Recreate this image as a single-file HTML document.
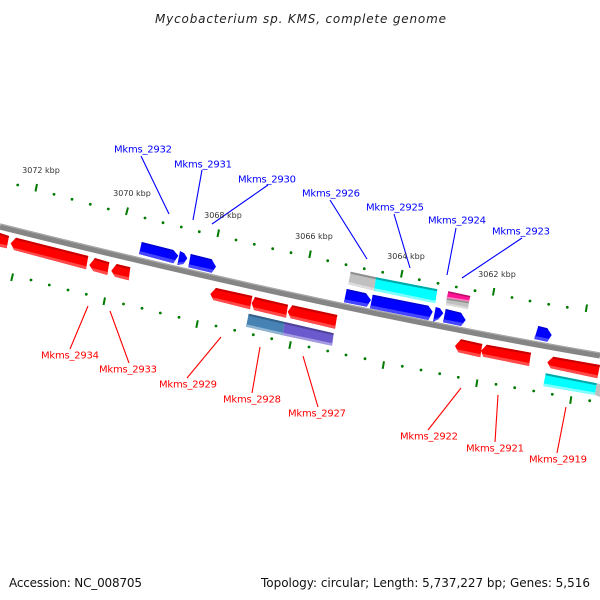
<!DOCTYPE html>
<html><head><meta charset="utf-8"><style>
html,body{margin:0;padding:0;background:#fff}
svg{display:block}
text{font-family:"DejaVu Sans",sans-serif}
.b{fill:#00f}.r{fill:#f00}
.bt{fill:#00c}.bu{fill:#4646ff}
.rt{fill:#c80000}.ru{fill:#ff4a4a}
.lb line{stroke:#00f;stroke-width:1.1}
.lr line{stroke:#f00;stroke-width:1.1}
.tb text{fill:#00f;font-size:10px}
.tr text{fill:#f00;font-size:10px}
.k text{fill:#333;font-size:8px;text-anchor:middle}
.mi circle{fill:#007a00}
.ma line{stroke:#007a00;stroke-width:2}
</style></head><body>
<svg width="600" height="600" viewBox="0 0 600 600" xmlns="http://www.w3.org/2000/svg">
<rect width="600" height="600" fill="#fff"/>
<text x="155" y="23" font-size="12" font-style="italic" fill="#222" textLength="291" lengthAdjust="spacing">Mycobacterium sp. KMS, complete genome</text>

<g fill="none">
<path d="M0,226.5 Q337,310.8 600,355.5" stroke="#858585" stroke-width="6.2"/>
<path d="M0,224 Q337,308.3 600,353" stroke="#a8a8a8" stroke-width="1.2"/>
</g>

<g class="mi">
<circle cx="17.7" cy="185" r="1.4"/><circle cx="54" cy="194.3" r="1.4"/><circle cx="72" cy="199.3" r="1.4"/><circle cx="90.3" cy="204.3" r="1.4"/><circle cx="108.3" cy="209" r="1.4"/><circle cx="145" cy="218" r="1.4"/><circle cx="163" cy="222.7" r="1.4"/><circle cx="181.3" cy="227" r="1.4"/><circle cx="199.3" cy="231.7" r="1.4"/><circle cx="236" cy="240" r="1.4"/><circle cx="254.3" cy="244.3" r="1.4"/><circle cx="272.7" cy="248.7" r="1.4"/><circle cx="291" cy="252.7" r="1.4"/><circle cx="327.7" cy="260.7" r="1.4"/><circle cx="346" cy="264.7" r="1.4"/><circle cx="364.3" cy="268.7" r="1.4"/><circle cx="382.7" cy="272.3" r="1.4"/><circle cx="419.3" cy="279.7" r="1.4"/><circle cx="438" cy="283.3" r="1.4"/><circle cx="456.3" cy="287" r="1.4"/><circle cx="475" cy="290.7" r="1.4"/><circle cx="512" cy="297.5" r="1.4"/><circle cx="530" cy="301" r="1.4"/><circle cx="548.7" cy="304.3" r="1.4"/><circle cx="567.3" cy="307.3" r="1.4"/>
<circle cx="31" cy="280" r="1.4"/><circle cx="49.3" cy="285" r="1.4"/><circle cx="68" cy="290" r="1.4"/><circle cx="86.3" cy="294.3" r="1.4"/><circle cx="123.5" cy="304" r="1.4"/><circle cx="142" cy="308.3" r="1.4"/><circle cx="160.3" cy="313" r="1.4"/><circle cx="179" cy="317.3" r="1.4"/><circle cx="216" cy="326" r="1.4"/><circle cx="234.7" cy="330.3" r="1.4"/><circle cx="253.3" cy="334.7" r="1.4"/><circle cx="271.7" cy="338.7" r="1.4"/><circle cx="309" cy="347" r="1.4"/><circle cx="327.7" cy="351" r="1.4"/><circle cx="346" cy="355" r="1.4"/><circle cx="365" cy="358.7" r="1.4"/><circle cx="402.3" cy="366.3" r="1.4"/><circle cx="421" cy="370" r="1.4"/><circle cx="439.7" cy="373.7" r="1.4"/><circle cx="458.3" cy="377.3" r="1.4"/><circle cx="496" cy="384.3" r="1.4"/><circle cx="514.7" cy="387.7" r="1.4"/><circle cx="533.7" cy="391" r="1.4"/><circle cx="552.3" cy="394.3" r="1.4"/><circle cx="589.7" cy="400.7" r="1.4"/>
</g>
<g class="ma">
<line x1="37" y1="184" x2="35.5" y2="191.5"/><line x1="128" y1="207.5" x2="126" y2="215"/><line x1="219" y1="229.5" x2="217.5" y2="237"/><line x1="310.8" y1="250.5" x2="309.3" y2="258"/><line x1="402.5" y1="270" x2="401" y2="277.5"/><line x1="494.3" y1="288" x2="493" y2="295.5"/><line x1="587" y1="304.5" x2="585.8" y2="312"/>
<line x1="13" y1="273.5" x2="11.2" y2="281"/><line x1="105" y1="297.5" x2="103.5" y2="305"/><line x1="197.8" y1="320.3" x2="196.3" y2="327.8"/><line x1="290.8" y1="341.3" x2="289.3" y2="348.8"/><line x1="384" y1="361.3" x2="382.7" y2="368.8"/><line x1="477.4" y1="379.5" x2="476.2" y2="387"/><line x1="571.3" y1="396.3" x2="570.2" y2="403.8"/>
</g>

<!-- blue genes -->
<g>
<polygon class="b" points="141.7,242 173.3,250 178.3,255.7 173.3,263.3 139,254"/><polygon class="bt" points="141.7,242 173.3,250 174.8,251.7 141.4,243.5"/><polygon class="bu" points="139,254 173.3,263.3 175.3,260.3 139.5,251"/>
<polygon class="b" points="180,251 184.3,253.3 187.3,258.3 183.3,264 177.3,265"/><polygon class="bu" points="177.3,265 183.3,264 185,261.6 177.7,262.6"/>
<polygon class="b" points="190.7,254 211.7,259.3 216,266.7 211.7,272.7 188.3,267.3"/><polygon class="bt" points="190.7,254 211.7,259.3 212.7,261 190.4,255.5"/><polygon class="bu" points="188.3,267.3 211.7,272.7 213.8,269.7 188.8,264.3"/>
<polygon class="b" points="346.7,289 366,293.3 371,300 366.7,306.7 344,302.3"/><polygon class="bt" points="346.7,289 366,293.3 367.2,295 346.4,290.5"/><polygon class="bu" points="344,302.3 366.7,306.7 368.6,303.7 344.5,299.3"/>
<polygon class="b" points="372.7,294.7 428.3,305.7 432.7,311.7 428.3,320 370,308.3"/><polygon class="bt" points="372.7,294.7 428.3,305.7 429.5,307.3 372.4,296.2"/><polygon class="bu" points="370,308.3 428.3,320 429.9,317 370.5,305.3"/>
<polygon class="b" points="435.7,307 440,308.3 443.3,313.3 438.3,319.3 433,321.7"/><polygon class="bu" points="433,321.7 438.3,319.3 440.2,317 433.5,319.3"/>
<polygon class="b" points="445.7,309 461,312.7 465.7,320 461,326 443,322.3"/><polygon class="bt" points="445.7,309 461,312.7 462,314.2 445.4,310.5"/><polygon class="bu" points="443,322.3 461,326 463.3,323 443.5,319.3"/>
<polygon class="b" points="538.3,326 547.3,328.3 551.7,335 547.3,341.7 534.3,339"/><polygon class="bt" points="538.3,326 547.3,328.3 548.3,329.8 538,327.5"/><polygon class="bu" points="534.3,339 547.3,341.7 549.2,338.7 534.8,336"/>
</g>

<!-- red genes -->
<g>
<polygon class="r" points="0,233 9,236 6.7,248.3 0,246.7"/><polygon class="rt" points="0,233 9,236 8.65,238 0,235"/><polygon class="ru" points="0,246.7 6.7,248.3 7.2,245.3 0,243.7"/>
<polygon class="r" points="16,237.7 88.3,256 86,269.3 14,250 10.7,243.3"/><polygon class="rt" points="16,237.7 88.3,256 87.95,258 14.7,239.5"/><polygon class="ru" points="14,250 86,269.3 86.5,266.3 13,247.5"/>
<polygon class="r" points="95,258 109.3,262.3 107.3,275 93.3,271 89.3,265"/><polygon class="rt" points="95,258 109.3,262.3 108.95,264.3 93.7,259.8"/><polygon class="ru" points="93.3,271 107.3,275 107.8,272 92,268"/>
<polygon class="r" points="116.7,264 130.3,267.3 128.7,280.3 115,276.7 111.3,270.7"/><polygon class="rt" points="116.7,264 130.3,267.3 130,269.3 115.4,265.8"/><polygon class="ru" points="115,276.7 128.7,280.3 129.1,277.3 113.5,273.7"/>
<polygon class="r" points="216,288 252.3,296 250,309.3 213.3,300 210.3,294"/><polygon class="rt" points="216,288 252.3,296 251.95,298 214.4,289.6"/><polygon class="ru" points="213.3,300 250,309.3 250.5,306.3 212,297.3"/>
<polygon class="r" points="255,297 288,304.7 286,317.7 254,310 251.7,303.3"/><polygon class="rt" points="255,297 288,304.7 287.65,306.7 254.3,299"/><polygon class="ru" points="254,310 286,317.7 286.5,314.7 253,307"/>
<polygon class="r" points="292.3,305.3 337.3,315 335,328.7 290.7,318.3 287.7,311.7"/><polygon class="rt" points="292.3,305.3 337.3,315 336.95,317 291.4,307.2"/><polygon class="ru" points="290.7,318.3 335,328.7 335.5,325.7 289.3,315.3"/>
<polygon class="r" points="461,339.3 482.3,344 480.3,357.3 458.3,352.3 455,346"/><polygon class="rt" points="461,339.3 482.3,344 481.95,346 459.6,341"/><polygon class="ru" points="458.3,352.3 480.3,357.3 480.8,354.3 456.8,349.3"/>
<polygon class="r" points="486.7,344.7 531,352.7 529,366 483.3,356.7 481,350.7"/><polygon class="rt" points="486.7,344.7 531,352.7 530.65,354.7 485.5,346.5"/><polygon class="ru" points="483.3,356.7 529,366 529.5,363 482.2,353.7"/>
<polygon class="r" points="553.3,356.7 600,365 597.3,378.3 550.7,368.3 547.3,362.3"/><polygon class="rt" points="553.3,356.7 600,365 599.6,367 552,358.6"/><polygon class="ru" points="550.7,368.3 597.3,378.3 597.9,375.3 549,365.3"/>
</g>

<!-- other features -->
<g>
<polygon fill="#4682b4" points="248.7,313.7 284.7,322 282.7,335.3 246,326.7"/><polygon fill="#34618a" points="248.7,313.7 284.7,322 284.4,324 248.4,315.7"/><polygon fill="#8fb4d2" points="246,326.7 282.7,335.3 283.1,332.8 246.4,324.2"/>
<polygon fill="#6a5acd" points="284.7,322 333.7,333.3 332,345.7 282.7,335.3"/><polygon fill="#4f4399" points="284.7,322 333.7,333.3 333.4,335.3 284.4,324"/><polygon fill="#a49ae0" points="282.7,335.3 332,345.7 332.4,343.2 283.1,332.8"/>
<polygon fill="#c0c0c0" points="350.7,271.7 376,277.3 374,290.7 348.3,284.3"/><polygon fill="#8e8e8e" points="350.7,271.7 376,277.3 375.7,279.3 350.4,273.7"/><polygon fill="#dcdcdc" points="348.3,284.3 374,290.7 374.4,288.2 348.7,281.8"/>
<polygon fill="#0ff" points="376,277.3 437.3,289.3 435.3,303.3 374,290.7"/><polygon fill="#00a8a8" points="376,277.3 437.3,289.3 437,291.3 375.7,279.3"/><polygon fill="#80ffff" points="374,290.7 435.3,303.3 435.7,300.8 374.4,288.2"/>
<polygon fill="#ff1493" points="448.3,291.3 470.3,296 469,301.7 446.7,298.3"/><polygon fill="#b8106a" points="448.3,291.3 470.3,296 470,297.5 448,292.8"/><polygon fill="#ff80c0" points="446.7,298.3 469,301.7 469.3,300.2 447,296.8"/>
<polygon fill="#c0c0c0" points="446.7,298.3 469,301.7 468,309.3 446,305"/><polygon fill="#8e8e8e" points="446.7,298.3 469,301.7 468.8,303.2 446.5,299.8"/><polygon fill="#dcdcdc" points="446,305 468,309.3 468.3,307.3 446.3,303"/>
<polygon fill="#0ff" points="545.7,373.3 596.7,383.3 595,395 543.3,386"/><polygon fill="#00a8a8" points="545.7,373.3 596.7,383.3 596.4,385.3 545.4,375.3"/><polygon fill="#80ffff" points="543.3,386 595,395 595.4,392.5 543.7,383.5"/>
<polygon fill="#c0c0c0" points="596.7,383.3 600,384 600,397 595,395"/>
</g>

<g class="lb">
<line x1="141" y1="156" x2="169" y2="214"/><line x1="202" y1="170" x2="193" y2="220"/><line x1="268" y1="185" x2="212" y2="224"/><line x1="330" y1="200" x2="367" y2="259"/><line x1="394" y1="214" x2="410" y2="268"/><line x1="456" y1="228" x2="447" y2="275"/><line x1="522" y1="238" x2="462" y2="278"/>
</g>
<g class="lr">
<line x1="88" y1="306" x2="70" y2="349"/><line x1="110" y1="311" x2="129" y2="363"/><line x1="221" y1="337" x2="187" y2="378"/><line x1="260" y1="347" x2="252" y2="393"/><line x1="303" y1="356" x2="318" y2="407"/><line x1="461" y1="388" x2="428" y2="430"/><line x1="498" y1="395" x2="495" y2="442"/><line x1="566" y1="407" x2="557" y2="453"/>
</g>

<g class="tb">
<text x="114" y="152.5" textLength="58">Mkms_2932</text><text x="174" y="167.5" textLength="58">Mkms_2931</text><text x="238" y="182.5" textLength="58">Mkms_2930</text><text x="302" y="196.5" textLength="58">Mkms_2926</text><text x="366" y="210.5" textLength="58">Mkms_2925</text><text x="428" y="223.5" textLength="58">Mkms_2924</text><text x="492" y="234.5" textLength="58">Mkms_2923</text>
</g>
<g class="tr">
<text x="41" y="358.5" textLength="58">Mkms_2934</text><text x="99" y="372.5" textLength="58">Mkms_2933</text><text x="159" y="387.5" textLength="58">Mkms_2929</text><text x="223" y="402.5" textLength="58">Mkms_2928</text><text x="288" y="416.5" textLength="58">Mkms_2927</text><text x="400" y="439.5" textLength="58">Mkms_2922</text><text x="466" y="451.5" textLength="58">Mkms_2921</text><text x="529" y="462.5" textLength="58">Mkms_2919</text>
</g>
<g class="k">
<text x="41" y="173">3072 kbp</text><text x="132" y="196">3070 kbp</text><text x="223" y="218">3068 kbp</text><text x="314" y="239">3066 kbp</text><text x="406" y="259">3064 kbp</text><text x="497" y="277">3062 kbp</text>
</g>

<text x="9" y="587" font-size="12" fill="#111" textLength="133">Accession: NC_008705</text>
<text x="261" y="587" font-size="12" fill="#111" textLength="329">Topology: circular; Length: 5,737,227 bp; Genes: 5,516</text>
</svg>
</body></html>
